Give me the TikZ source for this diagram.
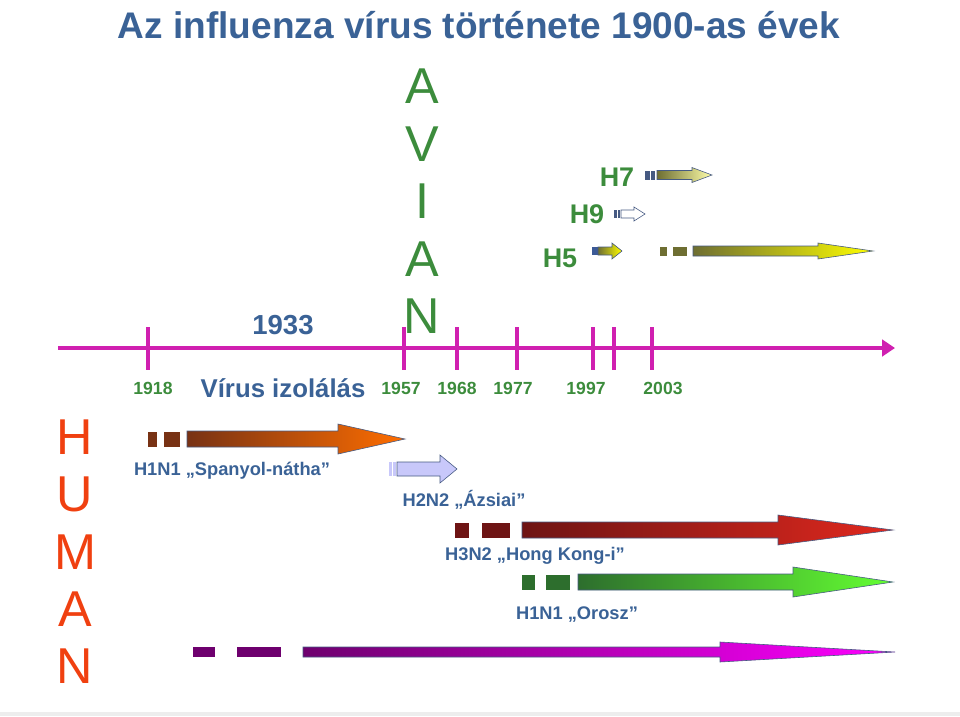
\documentclass[tikz,border=0pt]{standalone}
\usepackage{fontspec}
\setmainfont{Liberation Sans}
\usetikzlibrary{arrows.meta}

\definecolor{titleblue}{RGB}{58,98,150}
\definecolor{aviangreen}{RGB}{60,140,60}
\definecolor{humanred}{RGB}{240,64,16}
\definecolor{lineviolet}{RGB}{208,32,176}
\definecolor{arrowedge}{RGB}{70,90,130}
\definecolor{hfiveblue}{RGB}{60,90,150}
\definecolor{olivedark}{RGB}{110,110,50}
\definecolor{olivepale}{RGB}{255,255,170}
\definecolor{fluyellow}{RGB}{255,255,0}
\definecolor{spanbrown}{RGB}{120,50,20}
\definecolor{spanorange}{RGB}{255,110,0}
\definecolor{asialilac}{RGB}{200,200,250}
\definecolor{hkdark}{RGB}{110,20,20}
\definecolor{hkred}{RGB}{225,40,30}
\definecolor{russdark}{RGB}{45,110,45}
\definecolor{russgreen}{RGB}{100,255,50}
\definecolor{purpledark}{RGB}{110,0,110}
\definecolor{purplebright}{RGB}{255,0,255}

% fat arrow: #1 tail x, #2 head x, #3 tip x, #4 y, #5 half body, #6 half head, #7 shading
\newcommand{\fatarrow}[7]{%
  \shade[#7,draw=arrowedge,line width=0.5pt]
    (#1,#4-#5) -- (#2,#4-#5) -- (#2,#4-#6) -- (#3,#4) -- (#2,#4+#6) -- (#2,#4+#5) -- (#1,#4+#5) -- cycle;}
% little block in front of an arrow: #1 from x, #2 to x, #3 y, #4 half height, #5 colour
\newcommand{\flublock}[5]{\fill[#5] (#1,#3-#4) rectangle (#2,#3+#4);}

\begin{document}
\begin{tikzpicture}[x=0.3mm,y=-0.3mm,
    label/.style={font=\bfseries\fontsize{15.6}{18}\selectfont,text=titleblue,inner sep=0pt},
    year/.style={font=\bfseries\fontsize{15}{18}\selectfont,text=aviangreen,inner sep=0pt},
    subtype/.style={font=\bfseries\fontsize{23}{26}\selectfont,text=aviangreen,inner sep=0pt},
    bigletter/.style={font=\fontsize{43}{46}\selectfont,inner sep=0pt}]
  \useasboundingbox (0,0) rectangle (960,716);
  \fill[black!7] (0,712) rectangle (960,716);

  \node[font=\bfseries\fontsize{31.6}{36}\selectfont,text=titleblue,inner sep=0pt] (title) at (479,25)
    {Az influenza vírus története 1900-as évek};

  % time line
  \coordinate (tlstart) at (58,348);
  \coordinate (tlend) at (895,348);
  \draw[lineviolet,line width=4pt,-{Triangle[length=11pt,width=14pt]}] (tlstart) -- (tlend);
  \foreach \x/\nm in {148/a,404/b,457/c,517/d,593/e,614/f,652/g}
    \draw[lineviolet,line width=2.6pt] (\x,327) coordinate (tick\nm) -- (\x,370);

  \node[year] (y1918) at (153,388) {1918};
  \node[year] (y1957) at (401,388) {1957};
  \node[year] (y1968) at (457,388) {1968};
  \node[year] (y1977) at (513,388) {1977};
  \node[year] (y1997) at (586,388) {1997};
  \node[year] (y2003) at (663,388) {2003};
  \node[font=\bfseries\fontsize{22}{26}\selectfont,text=titleblue,inner sep=0pt] (izol) at (283,388) {Vírus izolálás};
  \node[font=\bfseries\fontsize{23.5}{26}\selectfont,text=titleblue,inner sep=0pt] (y1933) at (283,325) {1933};

  % AVIAN and HUMAN
  \foreach \ch [count=\i] in {A,V,I,A,N}
    \node[bigletter,text=aviangreen] (avian\i) at (422,29+57.5*\i) {\ch};
  \foreach \ch [count=\i] in {H,U,M,A,N}
    \node[bigletter,text=humanred] (human\i) at (75,380+57.3*\i) {\ch};

  % avian subtypes
  \node[subtype] (h7) at (617,177) {H7};
  \node[subtype] (h9) at (587,214) {H9};
  \node[subtype] (h5) at (560,258) {H5};

  \flublock{645}{650}{175}{4.5}{arrowedge}
  \flublock{651}{655}{175}{4.5}{arrowedge}
  \fatarrow{657}{692}{712}{175}{4.5}{7.5}{left color=olivedark,right color=olivepale}

  \flublock{614}{617}{214}{4}{arrowedge}
  \flublock{618}{620}{214}{4}{arrowedge}
  \fatarrow{621}{634}{645}{214}{4}{7}{left color=white,right color=white}

  \flublock{592}{598}{251}{4}{hfiveblue}
  \fatarrow{598}{612}{622}{251}{4}{8}{left color=olivedark,right color=fluyellow}

  \flublock{660}{667}{251}{4.5}{olivedark}
  \flublock{673}{687}{251}{4.5}{olivedark}
  \fatarrow{693}{818}{873}{251}{5}{8}{left color=olivedark,right color=fluyellow}

  % human subtypes
  \flublock{148}{157}{439}{7.5}{spanbrown}
  \flublock{164}{180}{439}{7.5}{spanbrown}
  \fatarrow{187}{338}{405}{439}{8}{15}{left color=spanbrown,right color=spanorange}
  \node[label] (spanyol) at (232,471) {H1N1 „Spanyol-nátha”};

  \flublock{389}{392}{469}{7}{asialilac}
  \flublock{393}{396}{469}{7}{asialilac}
  \fatarrow{397}{440}{457}{469}{7}{14}{left color=asialilac,right color=asialilac}
  \node[label] (azsiai) at (464,500) {H2N2 „Ázsiai”};

  \flublock{455}{469}{530}{7.5}{hkdark}
  \flublock{482}{510}{530}{7.5}{hkdark}
  \fatarrow{522}{778}{893}{530}{8}{15}{left color=hkdark,right color=hkred}
  \node[label] (hongkong) at (535,556) {H3N2 „Hong Kong-i”};

  \flublock{522}{535}{582}{7.5}{russdark}
  \flublock{546}{570}{582}{7.5}{russdark}
  \fatarrow{578}{793}{893}{582}{8}{15}{left color=russdark,right color=russgreen}
  \node[label] (orosz) at (577,615) {H1N1 „Orosz”};

  \flublock{193}{215}{652}{5}{purpledark}
  \flublock{237}{281}{652}{5}{purpledark}
  \fatarrow{303}{720}{895}{652}{5}{10}{left color=purpledark,right color=purplebright}
\end{tikzpicture}
\end{document}
